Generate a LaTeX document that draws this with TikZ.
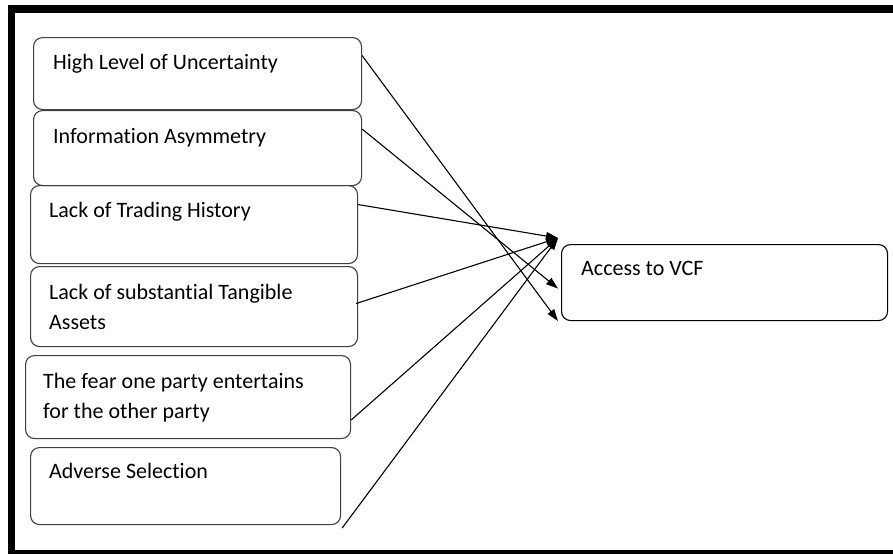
\documentclass[tikz,border=0pt]{standalone}
\usepackage{fontspec}
\setmainfont{Carlito}[Ligatures={NoCommon}]
\usetikzlibrary{arrows.meta}
\usetikzlibrary{calc}

\begin{document}
\begin{tikzpicture}[x=1pt, y=-1pt,
	factor/.style={draw=black!75, line width=1.1pt, rounded corners=9pt, anchor=north west, inner sep=0pt},
	txt/.style={anchor=base west, inner sep=0pt, align=left, font=\fontsize{22}{30}\selectfont},
	link/.style={line width=1.1pt, -{Triangle[length=12pt, width=8pt]}}]

\newcommand{\fw}{328pt}

	\useasboundingbox (0,0) rectangle (893,554);

	% frame
	\fill (8,5) rectangle (893,13);
	\fill (8,5) rectangle (15,554);
	\fill (8,550) rectangle (893,554);

	% factors on the left
	\node[factor, minimum width=\fw, minimum height=72pt] (high) at (33,37) {};
	\node[factor, minimum width=\fw, minimum height=75pt] (info) at (33,110) {};
	\node[factor, minimum width=327pt, minimum height=78pt] (trade) at (30,185) {};
	\node[factor, minimum width=327pt, minimum height=80pt] (tangible) at (30,266) {};
	\node[factor, minimum width=325pt, minimum height=83pt] (fear) at (25,355) {};
	\node[factor, minimum width=310pt, minimum height=77pt] (adverse) at (30,447) {};

	% base of a two line text is its last line
	\node[txt] (hightext) at ($(high.north west)+(20,32)$) {High Level of Uncertainty};
	\node[txt] (infotext) at ($(info.north west)+(20,33)$) {Information Asymmetry};
	\node[txt] (tradetext) at ($(trade.north west)+(19,32)$) {Lack of Trading History};
	\node[txt] (tangibletext) at ($(tangible.north west)+(19,63)$) {Lack of substantial Tangible\\Assets};
	\node[txt] (feartext) at ($(fear.north west)+(18,63)$) {The fear one party entertains\\for the other party};
	\node[txt] (adversetext) at ($(adverse.north west)+(19,31)$) {Adverse Selection};

	% outcome
	\node[factor, draw=black, minimum width=326pt, minimum height=76pt] (vcf) at (561,244) {};
	\node[txt] (vcftext) at ($(vcf.north west)+(20,31)$) {Access to VCF};

	\coordinate (tipA) at ($(vcf.north west)+(-3,-6)$);
	\coordinate (tipB) at ($(vcf.west)+(-3,6)$);
	\coordinate (tipC) at ($(vcf.south west)+(-3,0)$);

	\draw[link] ($(high.east)+(0,-18)$) -- (tipC);
	\draw[link] ($(info.east)+(0,-19)$) -- (tipB);
	\draw[link] ($(trade.east)+(0,-20)$) -- (tipA);
	\draw[link] ($(tangible.east)+(-2,-3)$) -- (tipA);
	\draw[link] ($(fear.east)+(0,23)$) -- (tipA);
	\draw[link] ($(adverse.south east)+(1,3)$) -- (tipA);
  \end{tikzpicture}
\end{document}
